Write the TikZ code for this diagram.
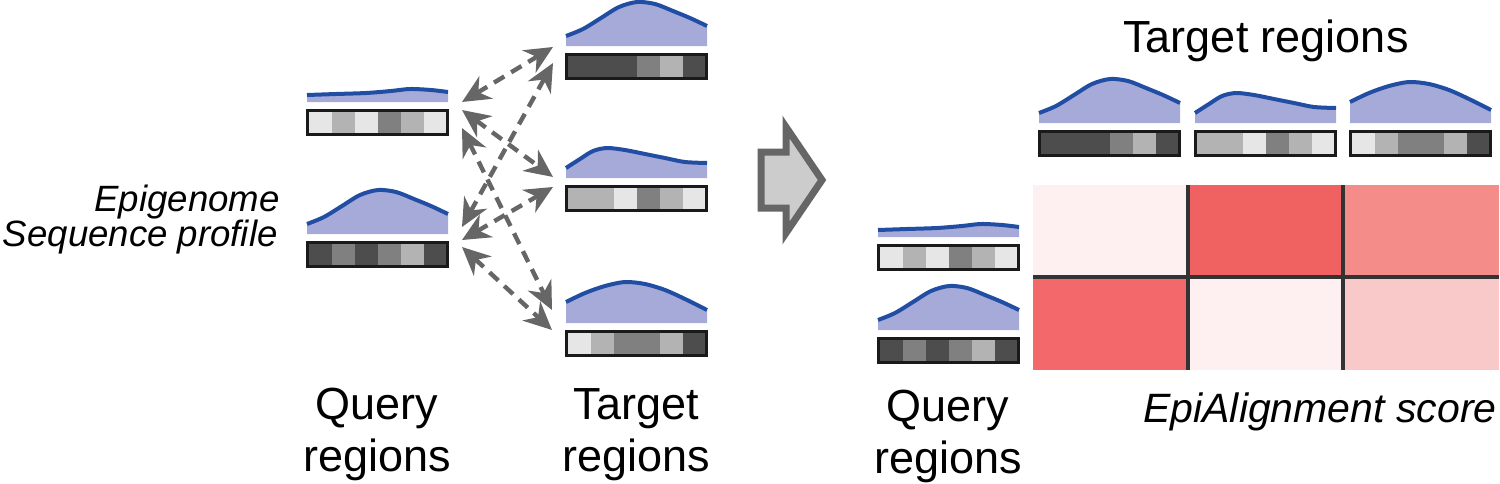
\documentclass[tikz,border=0pt]{standalone}
\usepackage{fontspec}
\setmainfont{Liberation Sans}
\usetikzlibrary{arrows.meta}

\definecolor{profilefill}{RGB}{165, 170, 216}
\definecolor{profileblue}{RGB}{33, 78, 163}
\definecolor{seqA}{RGB}{230, 230, 230}
\definecolor{seqB}{RGB}{179, 179, 179}
\definecolor{seqC}{RGB}{128, 128, 128}
\definecolor{seqD}{RGB}{77, 77, 77}
\definecolor{framegray}{RGB}{26, 26, 26}
\definecolor{linkgray}{RGB}{102, 102, 102}
\definecolor{arrowfill}{RGB}{204, 204, 204}
\definecolor{heatpale}{RGB}{254, 240, 240}
\definecolor{heathot}{RGB}{240, 98, 98}
\definecolor{heatwarm}{RGB}{244, 140, 138}
\definecolor{heatred}{RGB}{242, 104, 107}
\definecolor{heatsoft}{RGB}{249, 200, 201}
\definecolor{gridgray}{RGB}{51, 51, 51}

\tikzset{
  profile fill/.style={fill=profilefill},
  profile line/.style={draw=profileblue, line width=2pt},
  bar frame/.style={draw=framegray, line width=1.6pt},
  link/.style={draw=linkgray, line width=2.2pt, dash pattern=on 6pt off 4pt,
    >={Stealth[length=14pt,width=13pt,inset=4.5pt]}, <->},
  big arrow/.style={draw=linkgray, fill=arrowfill, line width=3.5pt, line join=miter},
  grid line/.style={draw=gridgray, line width=2pt},
  region label/.style={align=center, inner sep=0pt, font=\fontsize{22.5}{26}\selectfont},
  note label/.style={inner sep=0pt, font=\fontsize{18.3}{22}\selectfont\itshape},
  score label/.style={inner sep=0pt, font=\fontsize{20.5}{24}\selectfont\itshape},
}

% signal shapes, heights above the baseline of the profile
\newcommand{\flatcurve}{plot[smooth] coordinates {(1,7) (30,8) (60,9) (85,11) (104,13) (125,12) (142,10)}}
\newcommand{\peakcurve}{plot[smooth] coordinates {(1,10) (18,17) (36,28) (54,39) (72,44) (90,42) (108,35) (125,28) (142,20)}}
\newcommand{\earlycurve}{plot[smooth] coordinates {(1,10) (15,19) (28,27) (42,30) (60,28) (80,24) (100,20) (120,16) (142,15)}}
\newcommand{\broadcurve}{plot[smooth] coordinates {(1,21) (20,30) (40,37) (60,41) (80,39) (100,33) (120,24) (142,13)}}

% one region: profile on top, sequence bar below
\newcommand{\epitrack}[3]{%
  \begin{scope}[shift={#1}]
    \begin{scope}[shift={(0,-7)}, yscale=-1]
      \fill[profile fill] #2 -- (142,0) -- (1,0) -- cycle;
      \draw[profile line] #2;
    \end{scope}
    \foreach \c [count=\i from 0] in {#3}
      \fill[\c] ({3+\i*23},3) rectangle ({3+(\i+1)*23},24);
    \draw[bar frame] (1.5,1.5) rectangle (141.5,25.5);
  \end{scope}}

\begin{document}
\begin{tikzpicture}[x=0.5pt, y=-0.5pt]
  \useasboundingbox (0,0) rectangle (1500,483);

  % left: pairwise comparison
  \epitrack{(306,109)}{\flatcurve}{seqA,seqB,seqA,seqC,seqB,seqA}
  \epitrack{(306,241)}{\peakcurve}{seqD,seqC,seqD,seqC,seqB,seqD}
  \epitrack{(565,53)}{\peakcurve}{seqD,seqD,seqD,seqC,seqB,seqD}
  \epitrack{(565,185)}{\earlycurve}{seqB,seqB,seqA,seqC,seqB,seqA}
  \epitrack{(565,330)}{\broadcurve}{seqA,seqB,seqC,seqC,seqB,seqD}

  \coordinate (q1-t1) at (462,102);
  \coordinate (q1-t2) at (462,110);
  \coordinate (q1-t3) at (462,128);
  \coordinate (q2-t1) at (462,227);
  \coordinate (q2-t2) at (462,240);
  \coordinate (q2-t3) at (462,247);
  \coordinate (t1-q1) at (553,47);
  \coordinate (t1-q2) at (553,63);
  \coordinate (t2-q1) at (553,177);
  \coordinate (t2-q2) at (553,187);
  \coordinate (t3-q1) at (552,310);
  \coordinate (t3-q2) at (552,330);

  \draw[link] (q1-t1) -- (t1-q1);
  \draw[link] (q1-t2) -- (t2-q1);
  \draw[link] (q1-t3) -- (t3-q1);
  \draw[link] (q2-t1) -- (t1-q2);
  \draw[link] (q2-t2) -- (t2-q2);
  \draw[link] (q2-t3) -- (t3-q2);

  \node[note label, anchor=north east] (epigenome) at (280,185) {Epigenome};
  \node[note label, anchor=north east] (seqprofile) at (278,220) {Sequence profile};
  \node[region label, anchor=north] (queryleft) at (377,388) {Query\\regions};
  \node[region label, anchor=north] (targetleft) at (636,388) {Target\\regions};

  \draw[big arrow] (761,152) -- (786,152) -- (786,127) -- (822,180)
    -- (786,233) -- (786,208) -- (761,208) -- cycle;

  % right: score matrix
  \epitrack{(877,244)}{\flatcurve}{seqA,seqB,seqA,seqC,seqB,seqA}
  \epitrack{(877,337)}{\peakcurve}{seqD,seqC,seqD,seqC,seqB,seqD}
  \epitrack{(1038,130)}{\peakcurve}{seqD,seqD,seqD,seqC,seqB,seqD}
  \epitrack{(1194,130)}{\earlycurve}{seqB,seqB,seqA,seqC,seqB,seqA}
  \epitrack{(1349,130)}{\broadcurve}{seqA,seqB,seqC,seqC,seqB,seqD}

  \foreach \c/\col/\row in {heatpale/0/0, heathot/1/0, heatwarm/2/0,
                            heatred/0/1, heatpale/1/1, heatsoft/2/1}
    \fill[\c] ({1033+\col*155.33},{185+\row*92.5}) rectangle ({1033+(\col+1)*155.33},{185+(\row+1)*92.5});
  \draw[grid line] (1188,185) -- (1188,370) (1343,185) -- (1343,370) (1033,277) -- (1499,277);

  \node[region label, anchor=north] (targettop) at (1266,19) {Target regions};
  \node[region label, anchor=north] (queryright) at (948,390) {Query\\regions};
  \node[score label, anchor=north east] (score) at (1497,392) {EpiAlignment score};
\end{tikzpicture}
\end{document}
